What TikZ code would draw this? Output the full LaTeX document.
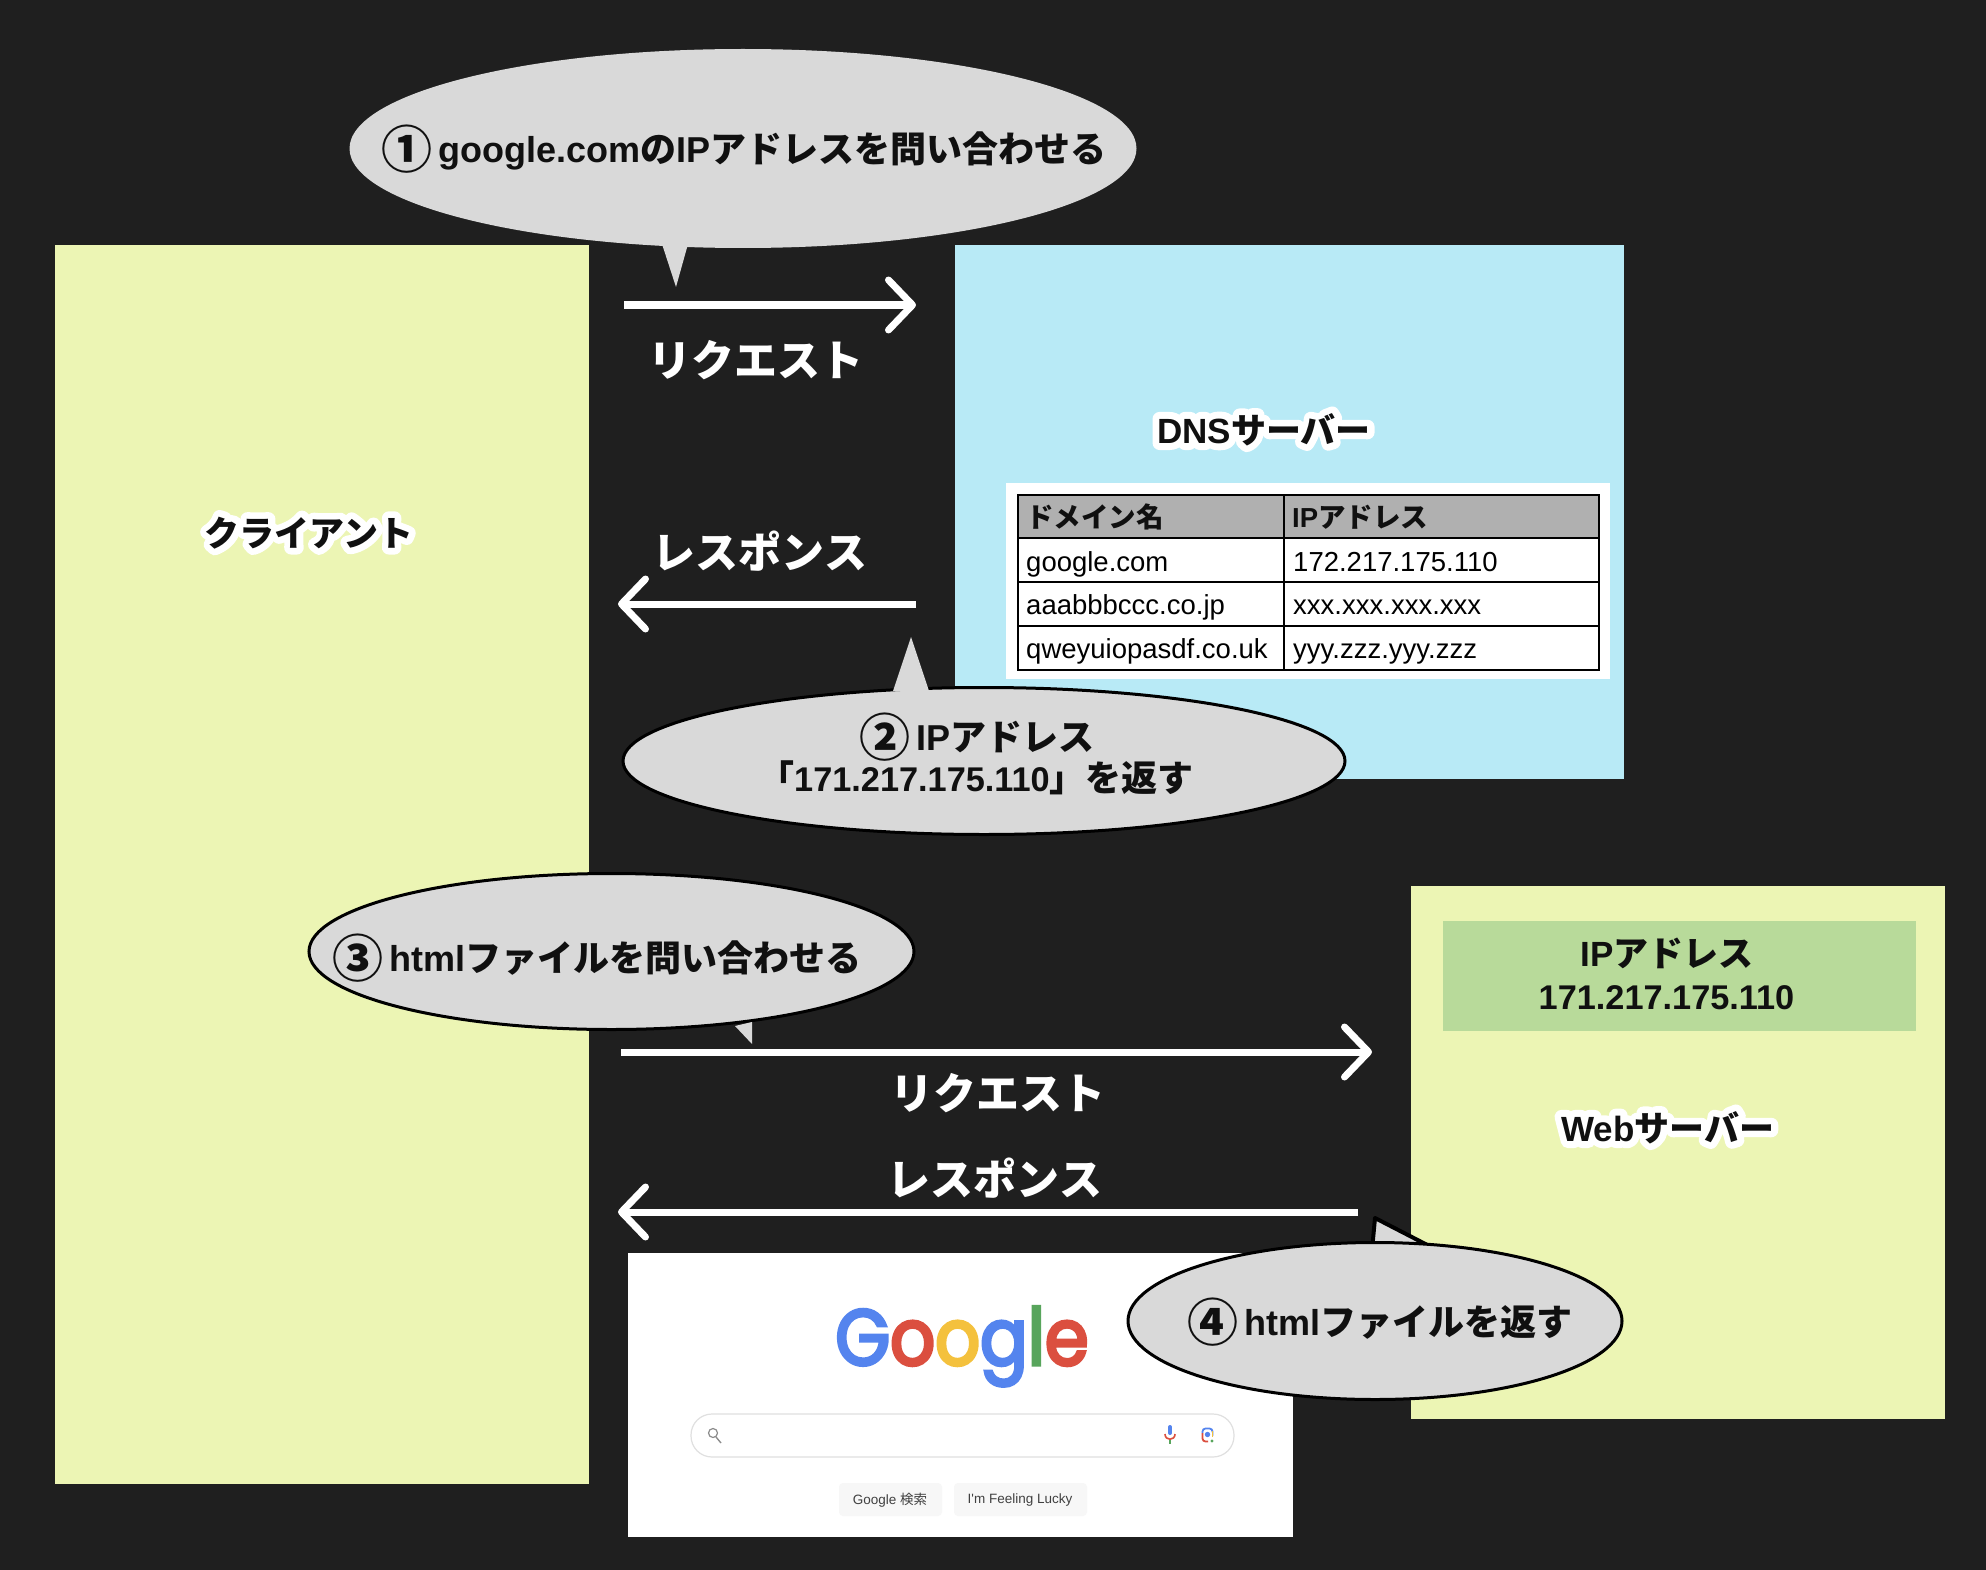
\documentclass[tikz,border=0pt]{standalone}
\usepackage{fontspec}
\usetikzlibrary{arrows.meta,shapes.geometric}

\setmainfont{Noto Sans CJK JP}[BoldFeatures={}]
\newfontfamily\halofont{Noto Sans CJK JP Bold}[FakeBold=40]
\newfontfamily\latinfont{Liberation Sans Bold}
\newfontfamily\latinhalo{Liberation Sans Bold}[FakeBold=40]
\newfontfamily\plainfont{Liberation Sans}
\newfontfamily\logofont{Poppins}[FakeStretch=0.89,FakeBold=4]

\definecolor{pagebg}{HTML}{1F1F1F}
\definecolor{bubblegray}{HTML}{D9D9D9}
\definecolor{boxyellow}{HTML}{ECF5B4}
\definecolor{boxblue}{HTML}{B8EAF6}
\definecolor{boxgreen}{HTML}{B8DA9A}
\definecolor{tablehead}{HTML}{B0B0B0}
\definecolor{inkdark}{HTML}{101010}
\definecolor{gblue}{HTML}{5484EE}
\definecolor{gred}{HTML}{DB4F3F}
\definecolor{gyellow}{HTML}{F4C13D}
\definecolor{ggreen}{HTML}{58A55C}

\newcommand{\lat}{\latinfont}
\newcommand{\latnum}{\latinfont\fontsize{34.3}{40}\selectfont}
\newcommand{\halolat}{\latinhalo\mdseries}
\newcommand{\halolabel}[1]{\leavevmode\rlap{\special{pdf:code 1 j}\color{white}\let\lat\halolat\halofont\mdseries #1\special{pdf:code 0 j}}{\bfseries #1}}
\newcommand{\circnum}[1]{\smash{\raisebox{-6pt}{\fontsize{51}{51}\selectfont #1}}\hspace{6pt}}

\tikzset{
  bubble/.style={ellipse,inner sep=0pt,outer sep=0pt,fill=bubblegray},
  bubbleline/.style={bubble,draw=black,line width=3pt},
  bubbletext/.style={anchor=base,inner sep=0pt,text=inkdark,font=\fontsize{36}{40}\selectfont\bfseries},
  flowlabel/.style={anchor=base,inner sep=0pt,text=white,font=\fontsize{43}{50}\selectfont\bfseries},
  boxlabel/.style={anchor=base,inner sep=0pt,text=inkdark,font=\fontsize{35}{40}\selectfont\bfseries},
  celltext/.style={anchor=base west,inner sep=0pt,text=black,font=\fontsize{27.5}{30}\plainfont},
  headtext/.style={anchor=base west,inner sep=0pt,text=inkdark,font=\fontsize{27.5}{30}\selectfont\bfseries},
  flowarrow/.style={white,line width=7pt,-{Straight Barb[length=24pt,width=50pt,round]}},
  googlebtn/.style={fill=black!3,rounded corners=4pt},
  btntext/.style={inner sep=0pt,text=black!75,font=\fontsize{13.5}{15}\plainfont},
}

\begin{document}
\begin{tikzpicture}[x=1pt,y=1pt,yscale=-1]
    \useasboundingbox (0,0) rectangle (1986,1570);
    \fill[pagebg] (0,0) rectangle (1986,1570);

    %Shape: client, servers
    \fill[boxyellow] (55,245) rectangle (589,1484);
    \fill[boxblue] (955,245) rectangle (1624,779);
    \fill[boxyellow] (1411,886) rectangle (1945,1419);
    \fill[boxgreen] (1443,921) rectangle (1916,1031);

    %Shape: dns table
    \fill[white] (1006,483) rectangle (1610,679);
    \fill[tablehead] (1018,495) rectangle (1599,538);
    \draw[black,line width=2pt] (1018,495) rectangle (1599,670);
    \foreach \rowy in {538,582,626}
        \draw[black,line width=2pt] (1018,\rowy) -- (1599,\rowy);
    \draw[black,line width=2pt] (1284,495) -- (1284,670);

    % Text Node
    \node[headtext] (headname) at (1026,527) {ドメイン名};
    \node[headtext] (headaddr) at (1292,527) {{\lat IP}アドレス};
    \node[celltext] (nameone) at (1026,571) {google.com};
    \node[celltext] (addrone) at (1293,571) {172.217.175.110};
    \node[celltext] (nametwo) at (1026,614) {aaabbbccc.co.jp};
    \node[celltext] (addrtwo) at (1293,614) {xxx.xxx.xxx.xxx};
    \node[celltext] (namethree) at (1026,658) {qweyuiopasdf.co.uk};
    \node[celltext] (addrthree) at (1293,658) {yyy.zzz.yyy.zzz};

    %Shape: google page
    \fill[white] (628,1253) rectangle (1293,1537);
    \draw[black!12,line width=1.2pt,rounded corners=21pt,fill=white] (691,1414) rectangle (1234,1457);
    \fill[googlebtn] (839,1483) rectangle (942,1516);
    \fill[googlebtn] (954,1483) rectangle (1087,1516);
    \node[btntext] (btnsearch) at (890,1500) {Google {\fontspec{Noto Sans CJK JP}検索}};
    \node[btntext] (btnlucky) at (1020,1500) {I'm Feeling Lucky};
    \node[anchor=base,inner sep=0pt,font=\fontsize{79}{79}\logofont] (logo) at (962,1365)
        {\color{gblue}G\color{gred}o\color{gyellow}o\color{gblue}g\color{ggreen}l\color{gred}e};

    %Shape: magnifier
    \draw[black!45,line width=1.2pt] (713,1433) circle (4.5);
    \draw[black!45,line width=1.4pt] (716,1437) -- (721,1443);
    %Shape: mic
    \draw[gblue,line width=4pt,line cap=round] (1170,1427) -- (1170,1433);
    \draw[gred,line width=1.6pt] (1165,1434) .. controls (1165,1441) and (1175,1441) .. (1175,1434);
    \draw[ggreen,line width=1.6pt] (1170,1440) -- (1170,1444);
    %Shape: lens
    \draw[gblue,line width=1.8pt,rounded corners=3pt] (1202.5,1433) -- (1202.5,1428.5) -- (1212.5,1428.5) -- (1212.5,1431);
    \draw[gred,line width=1.8pt,rounded corners=3pt] (1202.5,1433) -- (1202.5,1441.5) -- (1208,1441.5);
    \draw[gyellow,line width=1.8pt] (1212.5,1431) -- (1212.5,1437);
    \fill[gblue] (1207.5,1434.5) circle (2.7);
    \fill[ggreen] (1212,1441) circle (1.6);

    %Straight Lines
    \coordinate (asktailstart) at (624,305);
    \coordinate (asktailend) at (916,305);
    \coordinate (backstart) at (916,604);
    \coordinate (backend) at (618,604);
    \coordinate (htmlstart) at (621,1052);
    \coordinate (htmlend) at (1372,1052);
    \coordinate (pagestart) at (1358,1212);
    \coordinate (pageend) at (618,1212);
    \draw[flowarrow] (asktailstart) -- (asktailend);
    \draw[flowarrow] (backstart) -- (backend);
    \draw[flowarrow] (htmlstart) -- (htmlend);
    \draw[flowarrow] (pagestart) -- (pageend);

    % Text Node
    \node[flowlabel] (reqone) at (756,376) {リクエスト};
    \node[flowlabel] (resone) at (760,568) {レスポンス};
    \node[flowlabel] (reqtwo) at (998,1109) {リクエスト};
    \node[flowlabel] (restwo) at (995,1195) {レスポンス};
    \node[boxlabel] (clientlabel) at (309,546) {\halolabel{クライアント}};
    \node[boxlabel] (dnslabel) at (1264,443) {\halolabel{{\lat DNS}サーバー}};
    \node[boxlabel] (weblabel) at (1668,1141) {\halolabel{{\lat Web}サーバー}};
    \node[boxlabel] (webaddrone) at (1667,966) {{\lat IP}アドレス};
    \node[boxlabel] (webaddrtwo) at (1666.5,1009) {{\latnum 171.217.175.110}};

    %Shape: bubble one
    \node[bubble,minimum width=787pt,minimum height=199pt] (askdns) at (743,148.5) {};
    \fill[bubblegray] (662,244) -- (688,244) -- (676,287) -- cycle;
    %Shape: bubble two
    \node[bubbleline,minimum width=722pt,minimum height=147pt] (answerdns) at (984,761) {};
    \fill[bubblegray] (893,691) -- (929,691) -- (911,637) -- cycle;
    %Shape: bubble three
    \node[bubbleline,minimum width=605pt,minimum height=156pt] (askweb) at (611.5,951.5) {};
    \fill[bubblegray] (735,1026) -- (752,1022) -- (752,1044) -- cycle;
    %Shape: bubble four
    \draw[black,line width=4pt,fill=bubblegray,line join=round] (1372,1250) -- (1375,1218) -- (1437,1250) -- cycle;
    \node[bubbleline,minimum width=494pt,minimum height=157pt] (answerweb) at (1375,1321) {};

    % Text Node
    \node[bubbletext] (asktext) at (744,163) {\circnum{①}{\lat google.com}の{\lat IP}アドレスを問い合わせる};
    \node[bubbletext] (answertextone) at (977,750) {\circnum{②}{\lat IP}アドレス};
    \node[bubbletext] (answertexttwo) at (976,791) {「{\latnum 171.217.175.110}」を返す};
    \node[bubbletext] (htmltext) at (597,971) {\circnum{③}{\lat html}ファイルを問い合わせる};
    \node[bubbletext] (pagetext) at (1380,1335) {\circnum{④}{\lat html}ファイルを返す};
\end{tikzpicture}
\end{document}
